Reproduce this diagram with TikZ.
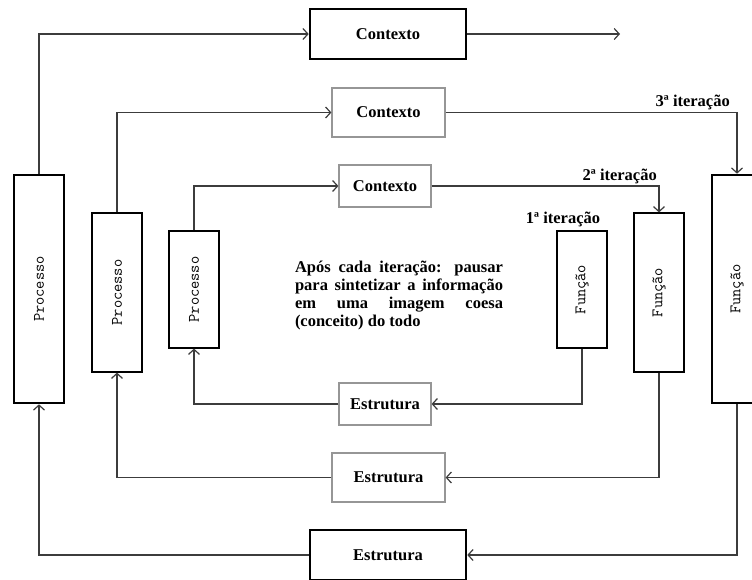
\documentclass[tikz,border=0pt]{standalone}
\usepackage{fontspec}
\usepackage{xcolor}
\setmainfont{Liberation Serif}
\usetikzlibrary{arrows.meta}

\definecolor{linegray}{RGB}{60,60,60}
\definecolor{boxgray}{RGB}{150,150,150}

\tikzset{
  >={Straight Barb[length=5pt,width=11pt]},
  txt/.style={font=\bfseries\fontsize{16.5}{18}\selectfont},
  box/.style={draw, inner sep=0pt, txt},
  thickbox/.style={box, line width=2.6pt},
  graybox/.style={box, draw=boxgray, line width=1.2pt},
  tallbox/.style={draw, inner sep=0pt, line width=1.2pt, minimum width=50},
  vlabel/.style={label={[rotate=90, font=\ttfamily\fontsize{16}{18}\selectfont]center:#1}},
  conn/.style={->, draw=linegray, line width=1.2pt}
}

\begin{document}
\begin{tikzpicture}[x=1pt, y=-1pt]
    \useasboundingbox (0,0) rectangle (752,579);
    \clip (0,0) rectangle (752,579);

    %% contexto boxes
    \node [thickbox, minimum width=156, minimum height=50] (ctx1) at (388,34) {Contexto};
    \node [graybox, minimum width=113, minimum height=49] (ctx2) at (388.5,112.5) {Contexto};
    \node [graybox, minimum width=92, minimum height=42] (ctx3) at (385,186) {Contexto};

    %% estrutura boxes
    \node [graybox, minimum width=92, minimum height=42] (est3) at (385,404) {Estrutura};
    \node [graybox, minimum width=113, minimum height=49] (est2) at (388.5,477.5) {Estrutura};
    \node [thickbox, minimum width=156, minimum height=50] (est1) at (388,555) {Estrutura};

    %% processo boxes
    \node [tallbox, line width=2.6pt, minimum height=228, vlabel=Processo] (proc1) at (39,289) {};
    \node [tallbox, minimum height=159, vlabel=Processo] (proc2) at (117,292.5) {};
    \node [tallbox, minimum height=117, vlabel=Processo] (proc3) at (194,289.5) {};

    %% funcao boxes
    \node [tallbox, minimum height=117, vlabel=Função] (fun3) at (582,289.5) {};
    \node [tallbox, minimum height=159, vlabel=Função] (fun2) at (659,292.5) {};
    \node [tallbox, line width=2.6pt, minimum height=228, vlabel=Função] (fun1) at (737,289) {};

    %% iteration labels
    \node [txt, above] (it1) at ([xshift=-19pt]fun3.north) {1ª iteração};
    \node [txt, above left, inner sep=2pt] (it2) at (ctx3.east -| fun2.north) {2ª iteração};
    \node [txt, above left, inner sep=2pt, xshift=-5pt] (it3) at (ctx2.east -| fun1.north) {3ª iteração};

    \node [txt, text width=208pt, align=justify, inner sep=0pt] (note) at (399,296)
      {\hyphenpenalty=10000 Após cada iteração: pausar\linebreak para sintetizar a informação\linebreak
       em uma imagem coesa\linebreak (conceito) do todo};

    %% outward loop
    \coordinate (out) at (620,34);
    \draw [conn] (proc1.north) |- (ctx1.west);
    \draw [conn] (ctx1.east) -- (out);
    \draw [conn] (proc2.north) |- (ctx2.west);
    \draw [conn] (ctx2.east) -| (fun1.north);
    \draw [conn] (proc3.north) |- (ctx3.west);
    \draw [conn] (ctx3.east) -| (fun2.north);

    %% return loop
    \draw [conn] (fun3.south) |- (est3.east);
    \draw [conn] (est3.west) -| (proc3.south);
    \draw [conn] (fun2.south) |- (est2.east);
    \draw [conn] (est2.west) -| (proc2.south);
    \draw [conn] (fun1.south) |- (est1.east);
    \draw [conn] (est1.west) -| (proc1.south);
\end{tikzpicture}
\end{document}
